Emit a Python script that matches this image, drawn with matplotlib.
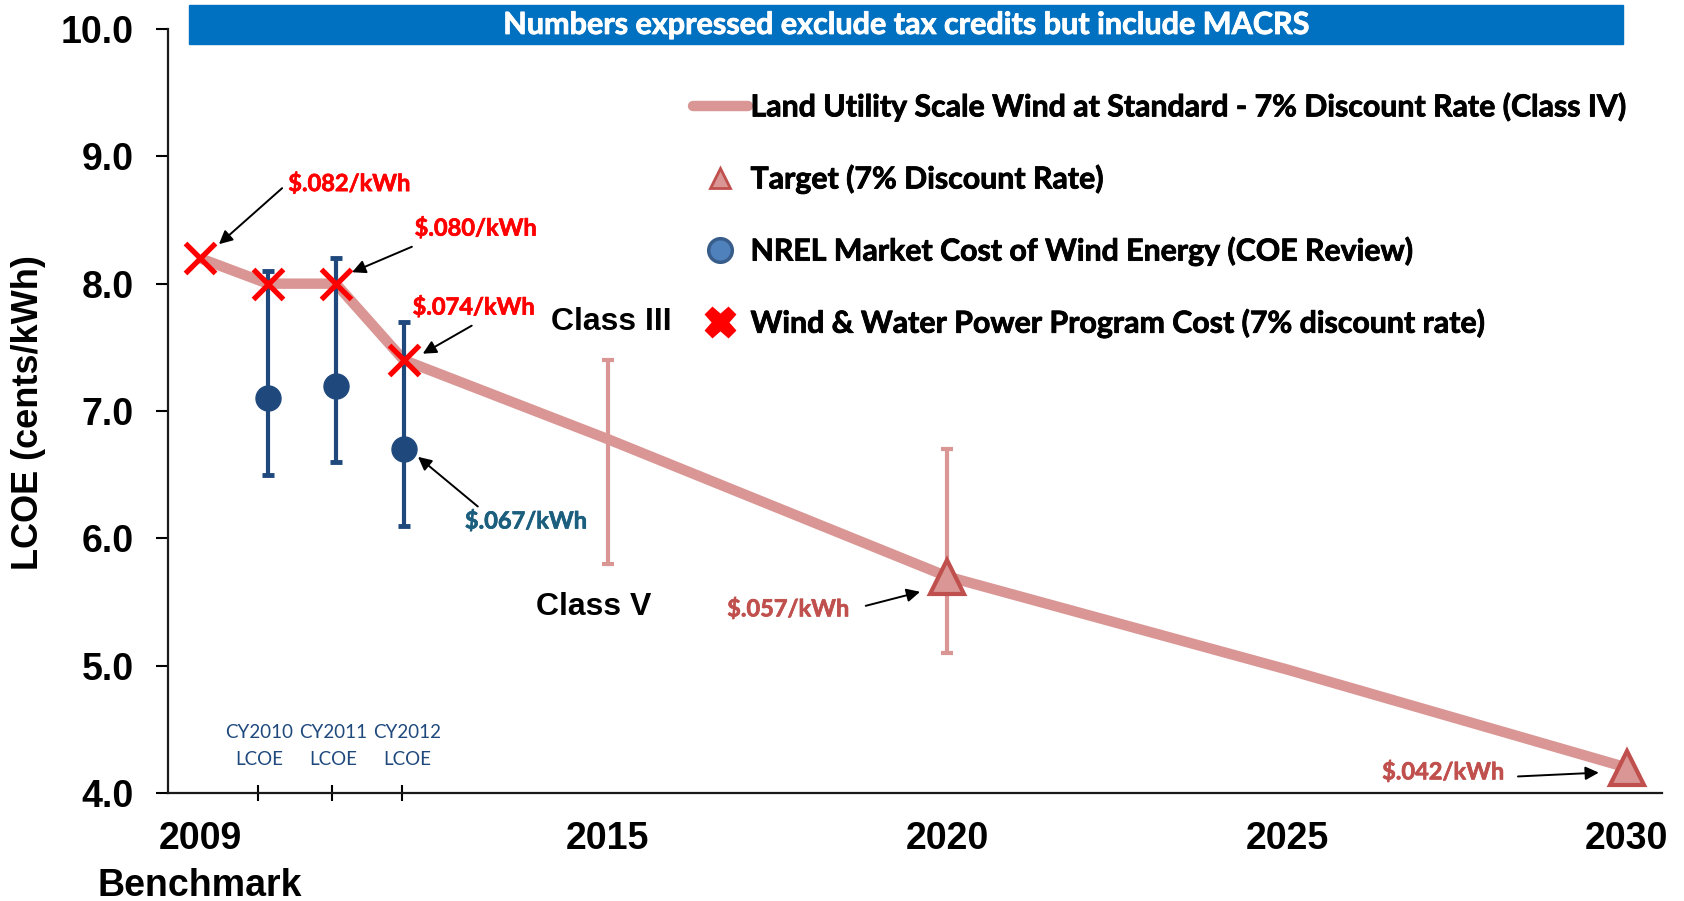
import matplotlib
matplotlib.use("Agg")
import matplotlib.pyplot as plt
import matplotlib.patheffects as pe
from matplotlib.lines import Line2D
from matplotlib.patches import Rectangle

# ---------------- data ----------------
wind_years = [2009, 2010, 2011, 2012, 2015, 2020, 2025, 2030]
wind_lcoe = [8.2, 8.0, 8.0, 7.4, 6.78, 5.7, 4.97, 4.2]

program_years = [2009, 2010, 2011, 2012]
program_cost = [8.2, 8.0, 8.0, 7.4]

nrel_years = [2010, 2011, 2012]
nrel_cost = [7.1, 7.2, 6.7]
nrel_low = [6.5, 6.6, 6.1]
nrel_high = [8.1, 8.2, 7.7]

target_years = [2020, 2030]
target_cost = [5.7, 4.2]

class_range_years = [2015, 2020]
class_range_low = [5.8, 5.1]
class_range_high = [7.4, 6.7]

y_ticks = [4.0, 5.0, 6.0, 7.0, 8.0, 9.0, 10.0]
x_ticks = [2009, 2015, 2020, 2025, 2030]
x_tick_labels = ["2009\nBenchmark", "2015", "2020", "2025", "2030"]
cy_tick_positions = [2009.85, 2010.94, 2011.97]
cy_label_positions = [2009.87, 2010.96, 2012.05]
cy_labels = ["CY2010\nLCOE", "CY2011\nLCOE", "CY2012\nLCOE"]

header_text = "Numbers expressed exclude tax credits but include MACRS"
legend_labels = [
    "Land Utility Scale Wind at Standard - 7% Discount Rate (Class IV)",
    "Target (7% Discount Rate)",
    "NREL Market Cost of Wind Energy (COE Review)",
    "Wind & Water Power Program Cost (7% discount rate)",
]

# ---------------- styles ----------------
PINK = "#D99694"
DARKRED = "#C0504D"
NAVY = "#1F497D"
RED = "#FF0000"
TEAL = "#1B5E7E"
ARIAL = "Liberation Sans"
CALIBRI = "Lato"
HEAVY = "bold"


def thick(color, w=0.6):
    return [pe.withStroke(linewidth=w, foreground=color)]


W, H, DPI = 1684, 901, 100
fig = plt.figure(figsize=(W / DPI, H / DPI), dpi=DPI)
ax = fig.add_axes([168 / W, 1 - 793 / H, (1662 - 168) / W, (793 - 29) / H])

ax.set_xlim(2008.53, 2030.52)
ax.set_ylim(4.0, 10.0)

# main wind line
ax.plot(wind_years, wind_lcoe, color=PINK, lw=7.5, solid_capstyle="butt",
        solid_joinstyle="round", zorder=2)

# class range bars
mids = [(lo + hi) / 2 for lo, hi in zip(class_range_low, class_range_high)]
errs = [(hi - lo) / 2 for lo, hi in zip(class_range_low, class_range_high)]
ax.errorbar(class_range_years, mids, yerr=errs, fmt="none", ecolor=PINK,
            elinewidth=3, capsize=4, capthick=3, zorder=3)

# NREL market cost
ax.errorbar(nrel_years, nrel_cost,
            yerr=[[c - lo for c, lo in zip(nrel_cost, nrel_low)],
                  [hi - c for c, hi in zip(nrel_cost, nrel_high)]],
            fmt="o", color=NAVY, ms=18, elinewidth=3, capsize=4, capthick=3.5,
            zorder=4)

# targets
ax.plot(target_years, target_cost, ls="none", marker="^", ms=25, mfc=PINK,
        mec=DARKRED, mew=3, zorder=5)

# program cost
ax.plot(program_years, program_cost, ls="none", marker="x", ms=22, mew=3.8,
        color=RED, zorder=6)

# ---------------- annotations ----------------
def note(text, pos, tail, head, color):
    ax.text(pos[0], pos[1], text, color=color, fontsize=17, fontweight=HEAVY,
            family=CALIBRI, ha="left", va="center", zorder=7,
            path_effects=thick(color, 0.5))
    ax.annotate("", xy=head, xytext=tail,
                arrowprops=dict(arrowstyle="-|>", color="black", lw=1.4,
                                mutation_scale=20, shrinkA=0, shrinkB=0),
                zorder=7)

note("$.082/kWh", (2010.30, 8.79), (2010.21, 8.75), (2009.28, 8.31), RED)
note("$.080/kWh", (2012.16, 8.44), (2012.12, 8.29), (2011.24, 8.09), RED)
note("$.074/kWh", (2012.13, 7.82), (2013.00, 7.67), (2012.28, 7.45), RED)
note("$.067/kWh", (2012.90, 6.14), (2013.09, 6.25), (2012.21, 6.64), TEAL)
note("$.057/kWh", (2016.76, 5.45), (2018.80, 5.47), (2019.60, 5.58), DARKRED)
note("$.042/kWh", (2026.40, 4.17), (2028.40, 4.13), (2029.59, 4.16), DARKRED)

ax.text(2015.05, 7.70, "Class III", fontsize=23, fontweight="bold",
        family=ARIAL, ha="center", va="center")
ax.text(2014.80, 5.46, "Class V", fontsize=23, fontweight="bold",
        family=ARIAL, ha="center", va="center")

for xp, lab in zip(cy_label_positions, cy_labels):
    ax.text(xp, 4.37, lab, color=NAVY, fontsize=13.5, family=CALIBRI,
            ha="center", va="center", linespacing=1.75)

# ---------------- axes styling ----------------
for s in ("top", "right"):
    ax.spines[s].set_visible(False)
for s in ("left", "bottom"):
    ax.spines[s].set_linewidth(1.6)
    ax.spines[s].set_color("#1a1a1a")

ax.set_yticks(y_ticks)
ax.set_yticklabels([f"{v:.1f}" for v in y_ticks])
ax.set_xticks(x_ticks)
ax.set_xticklabels(x_tick_labels, linespacing=1.4)
ax.set_xticks(cy_tick_positions, minor=True)
ax.tick_params(axis="y", direction="out", length=8.6, width=1.5, pad=16)
ax.tick_params(axis="x", which="major", length=0, pad=20)
ax.tick_params(axis="x", which="minor", direction="inout", length=11, width=1.5)
for lab in ax.get_xticklabels() + ax.get_yticklabels():
    lab.set_fontfamily(ARIAL)
    lab.set_fontweight("bold")
    lab.set_fontsize(27)

fig.text(29 / W, 1 - 413 / H, "LCOE (cents/kWh)", rotation=90, ha="center",
         va="center", fontsize=26, fontweight="bold", family=ARIAL)

# header banner
fig.patches.append(Rectangle((189 / W, 1 - 44 / H), (1623 - 189) / W, 39 / H,
                             transform=fig.transFigure, color="#0070C0",
                             zorder=0))
fig.text(906 / W, 1 - 25 / H, header_text, color="white", fontsize=22,
         fontweight=HEAVY, family=CALIBRI, ha="center", va="center",
         path_effects=thick("white", 0.6))

# legend
handles = [
    Line2D([], [], color=PINK, lw=7.5, solid_capstyle="round"),
    Line2D([], [], ls="none", marker="^", ms=14, mfc=PINK, mec=DARKRED, mew=2),
    Line2D([], [], ls="none", marker="o", ms=17, mfc="#4F81BD", mec="#385D8A",
           mew=2.5),
    Line2D([], [], ls="none", marker="X", ms=22, color=RED, mec=RED),
]
leg = fig.legend(handles, legend_labels, loc="center left",
                 bbox_to_anchor=(693 / W, 1 - 215 / H), frameon=False,
                 borderpad=0, borderaxespad=0, handlelength=1.8,
                 handletextpad=0.1, labelspacing=1.42,
                 prop=dict(family=CALIBRI, weight=HEAVY, size=21.8))
for t in leg.get_texts():
    t.set_path_effects(thick("black", 0.6))

fig.savefig("out.png", dpi=DPI)
